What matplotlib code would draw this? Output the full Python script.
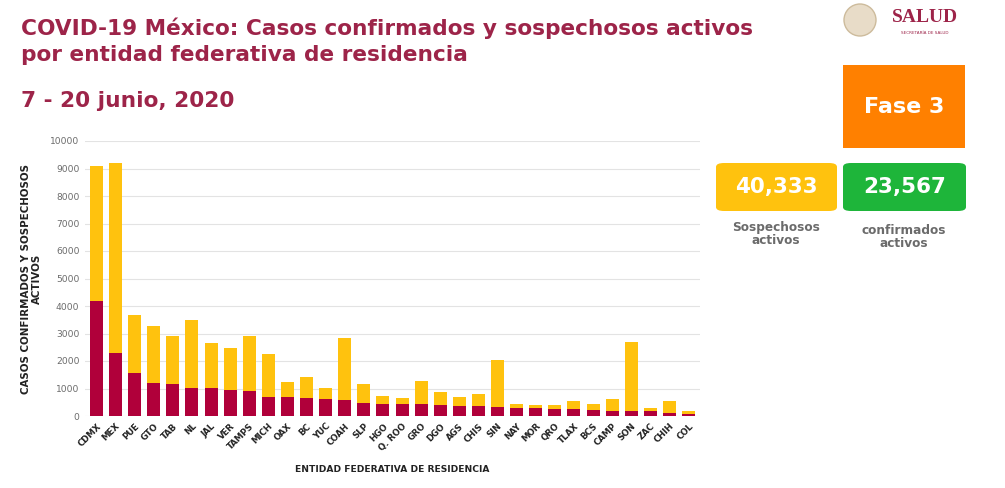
import matplotlib.pyplot as plt
from matplotlib.patches import FancyBboxPatch, Rectangle, Ellipse

# data
estados = ['CDMX', 'MEX', 'PUE', 'GTO', 'TAB', 'NL', 'JAL', 'VER', 'TAMPS', 'MICH',
           'OAX', 'BC', 'YUC', 'COAH', 'SLP', 'HGO', 'Q. ROO', 'GRO', 'DGO', 'AGS',
           'CHIS', 'SIN', 'NAY', 'MOR', 'QRO', 'TLAX', 'BCS', 'CAMP', 'SON', 'ZAC',
           'CHIH', 'COL']
confirmados = [4170, 2280, 1580, 1210, 1150, 1030, 1030, 960, 920, 700,
               680, 650, 620, 580, 480, 440, 440, 420, 390, 380,
               360, 330, 300, 280, 270, 270, 230, 190, 190, 180,
               110, 85]
totales = [9090, 9210, 3660, 3260, 2920, 3490, 2670, 2460, 2910, 2250,
           1250, 1430, 1020, 2850, 1160, 740, 670, 1280, 870, 700,
           810, 2020, 440, 410, 410, 560, 450, 610, 2690, 290,
           560, 180]
sospechosos = [t - c for t, c in zip(totales, confirmados)]
yticks = list(range(0, 10001, 1000))

ROJO = '#B0003A'
AMARILLO = '#FFC20E'
GUINDA = '#9D2449'
GRIS = '#6B6B6B'

plt.rcParams['font.family'] = ['DejaVu Sans']

W, H = 1005, 488
fig = plt.figure(figsize=(W / 100, H / 100), dpi=100)
ax = fig.add_axes([85 / W, 1 - 416 / H, 615 / W, 275 / H])

x = list(range(len(estados)))
ax.bar(x, confirmados, width=0.68, color=ROJO, zorder=3)
ax.bar(x, sospechosos, width=0.68, bottom=confirmados, color=AMARILLO, zorder=3)

ax.set_xlim(-0.6, len(estados) - 0.4)
ax.set_ylim(0, 10000)
ax.set_yticks(yticks)
ax.set_yticklabels([str(v) for v in yticks], fontsize=6.6, color=GRIS)
ax.yaxis.grid(True, color='#E3E3E3', linewidth=0.8, zorder=0)
ax.set_xticks(x)
ax.set_xticklabels(estados, rotation=45, ha='right', rotation_mode='anchor',
                   fontsize=6.2, fontweight='bold', color='#222222')
ax.tick_params(axis='both', length=0, pad=4)
for s in ax.spines.values():
    s.set_visible(False)
ax.set_xlabel('ENTIDAD FEDERATIVA DE RESIDENCIA', fontsize=6.6, fontweight='bold',
              color='#222222', labelpad=9)
ax.set_ylabel('CASOS CONFIRMADOS Y SOSPECHOSOS\nACTIVOS', fontsize=7.4,
              fontweight='bold', color='#222222', labelpad=6, linespacing=1.1)

# titles
for ty, txt in [(28, 'COVID-19 México: Casos confirmados y sospechosos activos'),
                (55, 'por entidad federativa de residencia'),
                (101, '7 - 20 junio, 2020')]:
    fig.text(21 / W, 1 - ty / H, txt, fontsize=15.6, fontweight='bold',
             color=GUINDA, va='center')


def caja(x0, y0, x1, y1, color, texto, size, rounded=True):
    if rounded:
        p = FancyBboxPatch((x0 / W, 1 - y1 / H), (x1 - x0) / W, (y1 - y0) / H,
                           boxstyle='round,pad=0,rounding_size=0.008',
                           transform=fig.transFigure, facecolor=color, edgecolor='none')
    else:
        p = Rectangle((x0 / W, 1 - y1 / H), (x1 - x0) / W, (y1 - y0) / H,
                      transform=fig.transFigure, facecolor=color, edgecolor='none')
    fig.patches.append(p)
    fig.text((x0 + x1) / 2 / W, 1 - (y0 + y1) / 2 / H, texto, fontsize=size,
             fontweight='bold', color='white', ha='center', va='center')


caja(843, 65, 965, 148, '#FF8000', 'Fase 3', 16, rounded=False)
caja(716, 163, 837, 211, '#FFC20E', '40,333', 15.5)
caja(843, 163, 966, 211, '#1EB53A', '23,567', 15.5)

fig.text(776 / W, 1 - 234 / H, 'Sospechosos\nactivos', fontsize=8.7, fontweight='bold',
         color=GRIS, ha='center', va='center', linespacing=1.05)
fig.text(904 / W, 1 - 237 / H, 'confirmados\nactivos', fontsize=8.7, fontweight='bold',
         color=GRIS, ha='center', va='center', linespacing=1.05)

# SALUD logo
fig.patches.append(Ellipse((860 / W, 1 - 20 / H), 32 / W, 32 / H, transform=fig.transFigure,
                           facecolor='#E8DCC8', edgecolor='#CDBB9C', linewidth=1))
fig.text(925 / W, 1 - 18 / H, 'SALUD', fontsize=14, fontweight='bold', color=GUINDA,
         ha='center', va='center', family=['Liberation Serif', 'DejaVu Serif'])
fig.text(925 / W, 1 - 33 / H, 'SECRETARÍA DE SALUD', fontsize=3, color=GUINDA,
         ha='center', va='center')

fig.savefig('out.png', dpi=100)
